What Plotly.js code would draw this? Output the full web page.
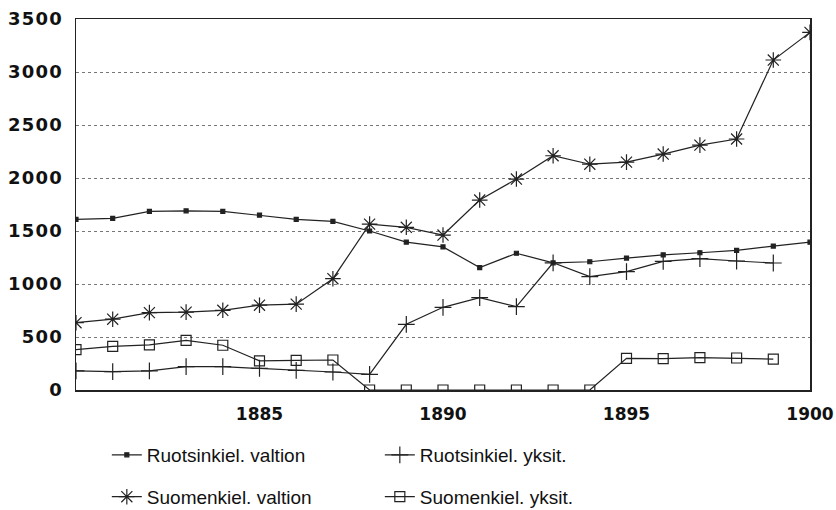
<!DOCTYPE html>
<html>
<head>
<meta charset="utf-8">
<script src="https://cdn.plot.ly/plotly-3.0.1.min.js"></script>
<style>
html,body{margin:0;padding:0;background:#fff;}
#chart{width:836px;height:510px;}
.ytick text{letter-spacing:1.2px;}
</style>
</head>
<body>
<div id="chart"></div>
<script>
const years = [1880,1881,1882,1883,1884,1885,1886,1887,1888,1889,1890,1891,1892,1893,1894,1895,1896,1897,1898,1899,1900];
const ruotsValtion = [1610,1620,1685,1690,1685,1650,1610,1590,1500,1395,1350,1155,1290,1200,1210,1245,1275,1295,1318,1358,1395];
const suomValtion  = [635,668,730,735,752,800,810,1050,1565,1535,1462,1792,1990,2210,2130,2150,2226,2310,2368,3113,3374];
const ruotsYksit   = [180,173,180,220,220,205,186,170,148,620,780,871,786,1200,1070,1116,1214,1239,1217,1198,null];
const suomYksit    = [380,412,425,469,422,275,280,283,0,0,0,0,0,0,0,298,296,305,302,292,null];
const names = ["Ruotsinkiel. valtion","Ruotsinkiel. yksit.","Suomenkiel. valtion","Suomenkiel. yksit."];
const yTicks = [0,500,1000,1500,2000,2500,3000,3500];
const xTicks = [1885,1890,1895,1900];

const lineCol = '#222';
function tr(y, name, sym, size, legend){
  return {x: years, y: y, name: name, type:'scatter', mode:'lines+markers',
    line:{color:lineCol, width:1.2},
    marker:{symbol:sym, size:size, color:lineCol, line:{color:lineCol, width:1.2}},
    legend: legend, connectgaps:false};
}
const data = [
  tr(ruotsValtion, names[0], 'square', 4, 'legend'),
  tr(ruotsYksit, names[1], 'cross-thin-open', 12, 'legend'),
  tr(suomValtion, names[2], 'asterisk-open', 13, 'legend2'),
  tr(suomYksit, names[3], 'square-open', 10, 'legend2')
];
const legFont = {family:'Liberation Sans, Arial, sans-serif', size:19, color:'#111'};
const legBase = {orientation:'h', xanchor:'left', yanchor:'middle', x:0.042,
  entrywidth:228, entrywidthmode:'pixels', font:legFont, bgcolor:'rgba(0,0,0,0)',
  itemwidth:30, traceorder:'normal'};
const layout = {
  width:836, height:510,
  margin:{l:76, r:26, t:19, b:120, autoexpand:false},
  paper_bgcolor:'#fff', plot_bgcolor:'#fff',
  font:{family:'DejaVu Sans, sans-serif', color:'#111'},
  xaxis:{range:[1880,1900], tickvals:xTicks, ticktext:xTicks.map(String),
    showgrid:false, zeroline:false, showline:true, linecolor:'#222', linewidth:1.5, mirror:true,
    ticks:'', ticklabelstandoff:8, ticklabeloverflow:'allow', automargin:false,
    tickfont:{family:'DejaVu Sans, sans-serif', size:17, weight:'bold', color:'#111'}},
  yaxis:{range:[0,3500], tickvals:yTicks, ticktext:yTicks.map(String),
    showgrid:true, gridcolor:'#777', griddash:'dot', gridwidth:1,
    zeroline:false, showline:true, linecolor:'#222', linewidth:1.5, mirror:true,
    ticks:'', ticklabelstandoff:8, ticklabeloverflow:'allow', automargin:false,
    tickfont:{family:'DejaVu Sans, sans-serif', size:18, weight:'bold', color:'#111'}},
  legend: Object.assign({}, legBase, {y:-0.175}),
  legend2: Object.assign({}, legBase, {y:-0.288}),
  showlegend:true
};
Plotly.newPlot('chart', data, layout, {staticPlot:true, displayModeBar:false});
</script>
</body>
</html>
